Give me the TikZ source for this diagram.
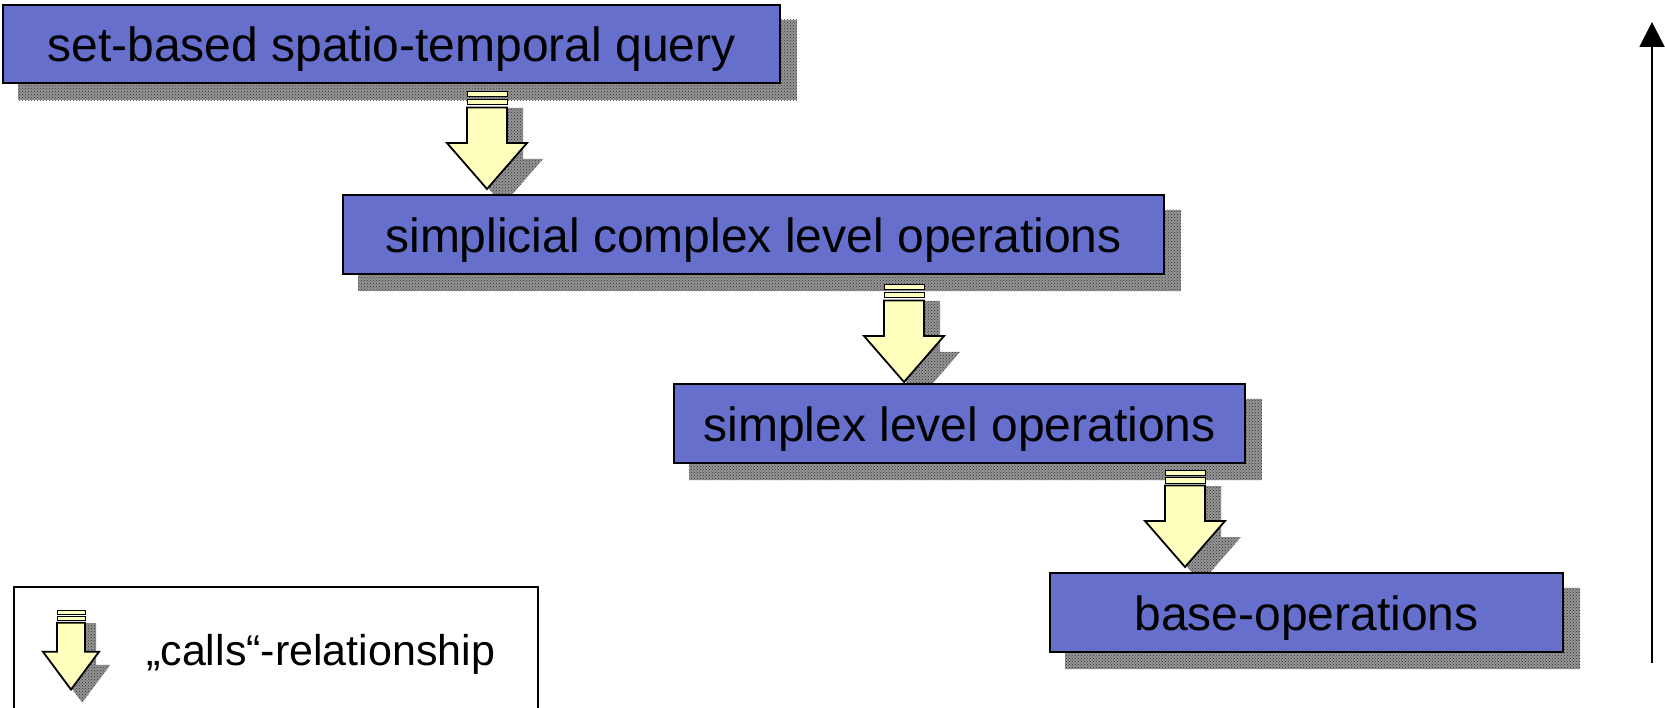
\documentclass[tikz,border=0pt]{standalone}
\usepackage{fontspec}
\setmainfont{Liberation Sans}
\usetikzlibrary{arrows.meta,calc,patterns}

\definecolor{boxblue}{RGB}{102,112,204}
\definecolor{callyellow}{RGB}{255,255,190}

\pgfdeclarelayer{shadowlayer}
\pgfsetlayers{shadowlayer,main}

\tikzset{
  levelbox/.style={draw=black, line width=2.5pt, fill=boxblue, inner sep=0pt,
    text height=40pt, text depth=4pt, font=\fontsize{48}{58}\selectfont},
  shadowfill/.style={fill=black!42},
  shadowgrain/.style={pattern=crosshatch dots, pattern color=black!80},
  arrowpart/.style={draw=black, line width=1.8pt, fill=callyellow, line join=miter},
  stripepart/.style={draw=black, line width=1pt, fill=callyellow},
  pics/callarrow/.style={code={
    \begin{pgfonlayer}{shadowlayer}
      \fill[shadowfill, shift={(16,16)}] (-20,0) -- (20,0) -- (20,51) -- (40,51)
        -- (0,97) -- (-40,51) -- (-20,51) -- cycle;
      \fill[shadowgrain, shift={(16,16)}] (-20,0) -- (20,0) -- (20,51) -- (40,51)
        -- (0,97) -- (-40,51) -- (-20,51) -- cycle;
    \end{pgfonlayer}
    \draw[stripepart] (-20,0) rectangle (20,5);
    \draw[stripepart] (-20,7.5) rectangle (20,13);
    \draw[arrowpart] (-20,15.5) -- (20,15.5) -- (20,51) -- (40,51) -- (0,97)
      -- (-40,51) -- (-20,51) -- cycle;
  }}
}

\begin{document}
\begin{tikzpicture}[x=1pt, y=-1pt]
  \useasboundingbox (0,0) rectangle (1665,708);

  % the four levels
  \node[levelbox, minimum width=777pt, minimum height=78pt] (query) at (391.5,44)
    {set-based spatio-temporal query};
  \node[levelbox, minimum width=821pt, minimum height=79pt] (complex) at (753.5,234.5)
    {simplicial complex level operations};
  \node[levelbox, minimum width=571pt, minimum height=79pt] (simplex) at (959.5,423.5)
    {simplex level operations};
  \node[levelbox, minimum width=513pt, minimum height=79pt] (base) at (1306.5,612.5)
    {base-operations};

  % drop shadows of the levels
  \begin{pgfonlayer}{shadowlayer}
    \foreach \b in {query,complex,simplex,base} {
      \fill[shadowfill] ($(\b.south west)+(16,16)$) rectangle ($(\b.north east)+(16,16)$);
      \fill[shadowgrain] ($(\b.south west)+(16,16)$) rectangle ($(\b.north east)+(16,16)$);
    }
  \end{pgfonlayer}

  % "calls" arrows between the levels
  \pic at (487,92) {callarrow};
  \pic at (904,285) {callarrow};
  \pic at (1185,470) {callarrow};

  % legend
  \coordinate (legbl) at (14,708);
  \coordinate (legtl) at (14,587);
  \coordinate (legtr) at (538,587);
  \coordinate (legbr) at (538,708);
  \draw[line width=1.5pt] (legbl) -- (legtl) -- (legtr) -- (legbr);
  \pic[xscale=0.7, yscale=0.82] at (71,610) {callarrow};
  \node[anchor=base west, inner sep=0pt, font=\fontsize{43}{52}\selectfont] (legtext)
    at (146,665) {„calls“-relationship};

  % upward axis on the right
  \coordinate (axbottom) at (1652,663);
  \coordinate (axtop) at (1652,22);
  \draw[line width=2pt, -{Triangle[length=25pt, width=25pt]}] (axbottom) -- (axtop);
\end{tikzpicture}
\end{document}
